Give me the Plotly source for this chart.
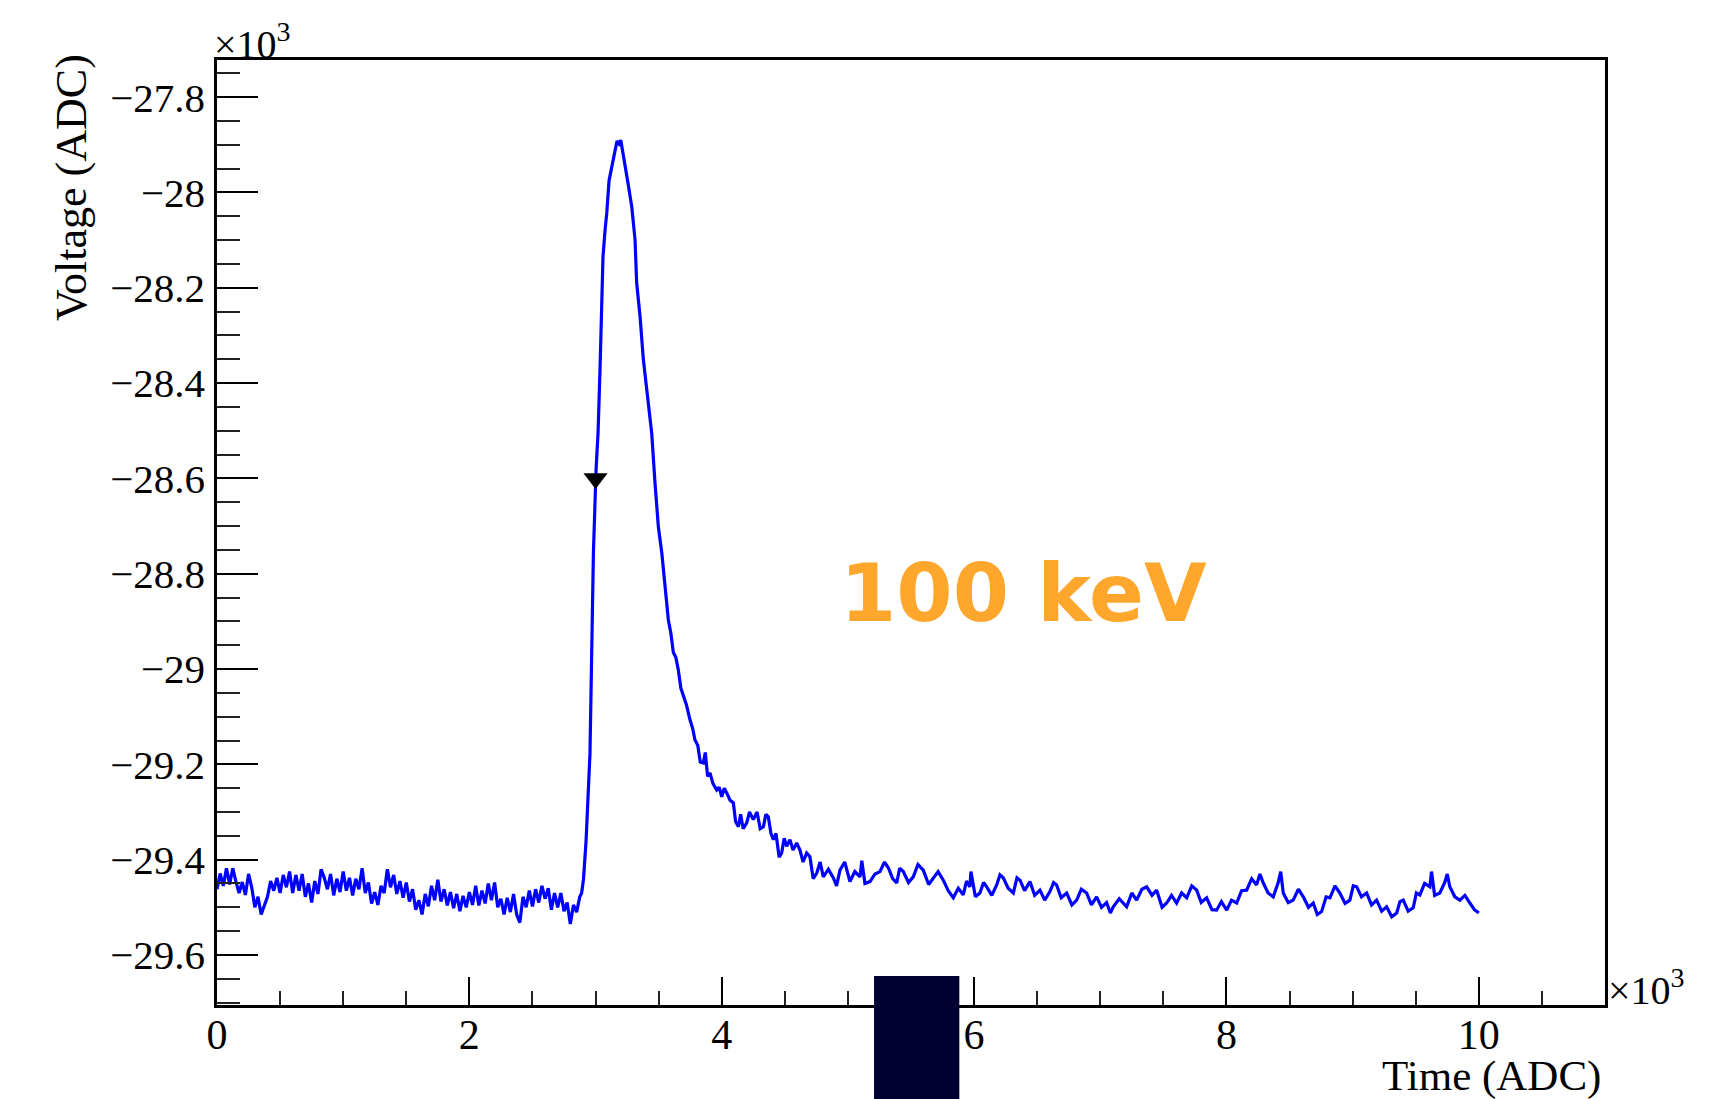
import plotly.graph_objects as go

# ---------------- data (values in units of 10^3) ----------------
baseline_time = [
    0.000, 0.025, 0.050, 0.075, 0.100, 0.125, 0.150, 0.175, 0.200, 0.225,
    0.250, 0.275, 0.300, 0.325, 0.350, 0.375, 0.400, 0.425, 0.450, 0.475,
    0.500, 0.525, 0.550, 0.575, 0.600, 0.625, 0.650, 0.675, 0.700, 0.725,
    0.750, 0.775, 0.800, 0.825, 0.850, 0.875, 0.900, 0.925, 0.950, 0.975,
    1.000, 1.025, 1.050, 1.075, 1.100, 1.125, 1.150, 1.175, 1.200, 1.225,
    1.250, 1.275, 1.300, 1.325, 1.350, 1.375, 1.400, 1.425, 1.450, 1.475,
    1.500, 1.525, 1.550, 1.575, 1.600, 1.625, 1.650, 1.675, 1.700, 1.725,
    1.750, 1.775, 1.800, 1.825, 1.850, 1.875, 1.900, 1.925, 1.950, 1.975,
    2.000, 2.025, 2.050, 2.075, 2.100, 2.125, 2.150, 2.175, 2.200, 2.225,
    2.250, 2.275, 2.300, 2.325, 2.350, 2.375, 2.400, 2.425, 2.450, 2.475,
    2.500, 2.525, 2.550, 2.575, 2.600, 2.625, 2.650, 2.675, 2.700, 2.725,
    2.750, 2.775, 2.800, 2.825, 2.850, 2.875, 2.890,
]
baseline_volt = [
    -29.462, -29.429, -29.455, -29.418, -29.452, -29.418, -29.446, -29.470, -29.447, -29.474,
    -29.430, -29.458, -29.500, -29.478, -29.515, -29.496, -29.478, -29.445, -29.465, -29.438,
    -29.470, -29.432, -29.458, -29.425, -29.470, -29.432, -29.465, -29.430, -29.478, -29.450,
    -29.490, -29.445, -29.472, -29.420, -29.438, -29.462, -29.430, -29.475, -29.440, -29.468,
    -29.425, -29.465, -29.438, -29.475, -29.440, -29.462, -29.418, -29.470, -29.448, -29.492,
    -29.468, -29.495, -29.455, -29.470, -29.420, -29.458, -29.432, -29.472, -29.445, -29.480,
    -29.448, -29.488, -29.462, -29.505, -29.485, -29.515, -29.472, -29.498, -29.455, -29.485,
    -29.442, -29.488, -29.462, -29.496, -29.468, -29.502, -29.472, -29.508, -29.476, -29.500,
    -29.468, -29.495, -29.455, -29.496, -29.465, -29.492, -29.450, -29.485, -29.448, -29.500,
    -29.482, -29.515, -29.480, -29.510, -29.472, -29.515, -29.532, -29.478, -29.500, -29.465,
    -29.498, -29.462, -29.490, -29.455, -29.482, -29.460, -29.505, -29.470, -29.500, -29.470,
    -29.508, -29.490, -29.535, -29.495, -29.510, -29.478, -29.470,
]

pulse_time = [
    2.905, 2.925, 2.956, 2.983, 3.004, 3.020, 3.036, 3.049, 3.059, 3.075,
    3.089, 3.107, 3.128, 3.154, 3.170, 3.186, 3.200, 3.220, 3.240, 3.260,
    3.287, 3.313, 3.326, 3.353, 3.379, 3.418, 3.445, 3.471, 3.498, 3.525,
    3.551, 3.577, 3.597, 3.617, 3.636, 3.656, 3.676, 3.696, 3.720, 3.749,
    3.770, 3.788, 3.810, 3.830, 3.854, 3.870, 3.888, 3.907, 3.930, 3.960,
    3.980, 4.000, 4.020, 4.040, 4.065, 4.092, 4.110, 4.132, 4.150, 4.170,
    4.198, 4.220, 4.250, 4.280, 4.305, 4.330, 4.350, 4.369, 4.390, 4.409,
    4.430, 4.455, 4.475, 4.495, 4.515, 4.541, 4.565, 4.594, 4.620, 4.645,
    4.673, 4.699, 4.725, 4.753, 4.780, 4.805, 4.845, 4.884, 4.910, 4.937,
]
pulse_volt = [
    -29.440, -29.360, -29.177, -28.757, -28.582, -28.504, -28.366, -28.261, -28.135, -28.080,
    -28.043, -27.975, -27.945, -27.910, -27.892, -27.898, -27.890, -27.922, -27.950, -27.985,
    -28.030, -28.099, -28.190, -28.261, -28.351, -28.435, -28.505, -28.609, -28.702, -28.756,
    -28.827, -28.897, -28.925, -28.966, -28.975, -29.002, -29.040, -29.058, -29.075, -29.107,
    -29.125, -29.149, -29.160, -29.195, -29.197, -29.175, -29.225, -29.218, -29.240, -29.254,
    -29.248, -29.268, -29.250, -29.260, -29.275, -29.281, -29.320, -29.331, -29.305, -29.335,
    -29.323, -29.300, -29.316, -29.300, -29.335, -29.331, -29.305, -29.310, -29.345, -29.358,
    -29.345, -29.395, -29.386, -29.355, -29.372, -29.358, -29.380, -29.365, -29.380, -29.405,
    -29.386, -29.394, -29.440, -29.428, -29.405, -29.436, -29.420, -29.438, -29.455, -29.422,
]

tail_time = [
    4.975, 5.016, 5.055, 5.096, 5.110, 5.135, 5.175, 5.215, 5.254, 5.290,
    5.320, 5.355, 5.387, 5.410, 5.439, 5.480, 5.518, 5.555, 5.597, 5.640,
    5.677, 5.715, 5.756, 5.795, 5.835, 5.875, 5.914, 5.940, 5.967, 5.975,
    6.010, 6.046, 6.075, 6.100, 6.140, 6.179, 6.205, 6.231, 6.270, 6.311,
    6.340, 6.364, 6.400, 6.443, 6.480, 6.522, 6.560, 6.601, 6.630, 6.654,
    6.690, 6.734, 6.775, 6.813, 6.850, 6.892, 6.930, 6.971, 7.010, 7.050,
    7.080, 7.103, 7.150, 7.209, 7.250, 7.288, 7.330, 7.368, 7.410, 7.447,
    7.490, 7.526, 7.565, 7.605, 7.645, 7.685, 7.725, 7.764, 7.800, 7.843,
    7.885, 7.922, 7.960, 8.002, 8.040, 8.081, 8.120, 8.160, 8.200, 8.239,
    8.265, 8.292, 8.330, 8.371, 8.410, 8.430, 8.450, 8.490, 8.529, 8.570,
    8.609, 8.650, 8.688, 8.720, 8.754, 8.790, 8.820, 8.860, 8.899, 8.940,
    8.978, 9.005, 9.032, 9.070, 9.111, 9.150, 9.190, 9.230, 9.269, 9.310,
    9.349, 9.375, 9.401, 9.440, 9.480, 9.505, 9.533, 9.570, 9.612, 9.625,
    9.650, 9.691, 9.730, 9.750, 9.770, 9.810, 9.850, 9.890, 9.929, 9.965,
    10.000,
]
tail_volt = [
    -29.405, -29.446, -29.425, -29.436, -29.402, -29.450, -29.446, -29.430, -29.425, -29.405,
    -29.417, -29.440, -29.449, -29.418, -29.425, -29.448, -29.436, -29.410, -29.422, -29.452,
    -29.438, -29.425, -29.443, -29.465, -29.480, -29.460, -29.474, -29.445, -29.457, -29.425,
    -29.478, -29.470, -29.448, -29.457, -29.475, -29.453, -29.432, -29.438, -29.460, -29.470,
    -29.438, -29.443, -29.465, -29.446, -29.475, -29.464, -29.485, -29.467, -29.448, -29.453,
    -29.480, -29.470, -29.495, -29.485, -29.462, -29.470, -29.495, -29.478, -29.500, -29.490,
    -29.512, -29.499, -29.482, -29.499, -29.470, -29.485, -29.462, -29.457, -29.475, -29.464,
    -29.500, -29.491, -29.475, -29.491, -29.470, -29.480, -29.455, -29.464, -29.490, -29.480,
    -29.505, -29.506, -29.488, -29.506, -29.485, -29.491, -29.465, -29.464, -29.440, -29.453,
    -29.430, -29.449, -29.470, -29.478, -29.448, -29.425, -29.470, -29.490, -29.485, -29.462,
    -29.478, -29.500, -29.491, -29.515, -29.509, -29.478, -29.480, -29.455, -29.470, -29.492,
    -29.485, -29.455, -29.457, -29.478, -29.470, -29.495, -29.485, -29.508, -29.499, -29.520,
    -29.512, -29.488, -29.485, -29.508, -29.501, -29.470, -29.474, -29.450, -29.457, -29.425,
    -29.475, -29.470, -29.448, -29.430, -29.457, -29.478, -29.485, -29.475, -29.491, -29.505,
    -29.512,
]

trigger_time = [3.0]
trigger_volt = [-28.6]

y_tick_vals = [-27.8, -28.0, -28.2, -28.4, -28.6, -28.8, -29.0, -29.2, -29.4, -29.6]
y_tick_text = ["\u221227.8", "\u221228", "\u221228.2", "\u221228.4", "\u221228.6",
               "\u221228.8", "\u221229", "\u221229.2", "\u221229.4", "\u221229.6"]
x_tick_vals = [0, 2, 4, 6, 8, 10]
x_tick_text = ["0", "2", "4", "6", "8", "10"]

time_all = baseline_time + pulse_time + tail_time
volt_all = baseline_volt + pulse_volt + tail_volt

# ---------------- figure ----------------
# the page body adds an 8 px margin, so the figure is 8 px smaller than the window
W, H = 1723, 1091
L, R, T, B = 209, 126, 52, 94
serif = "Liberation Serif, Times New Roman, serif"

fig = go.Figure()
fig.add_trace(go.Scatter(
    x=time_all, y=volt_all, mode="lines",
    line=dict(color="#0000ff", width=3.2),
    hoverinfo="skip", showlegend=False,
))
fig.add_trace(go.Scatter(
    x=trigger_time, y=trigger_volt, mode="markers",
    marker=dict(symbol="triangle-down", size=21, color="black"),
    hoverinfo="skip", showlegend=False,
))

fig.update_layout(
    width=W, height=H, autosize=False,
    margin=dict(l=L, r=R, t=T, b=B, pad=0),
    paper_bgcolor="white", plot_bgcolor="white",
    showlegend=False,
    font=dict(family=serif, color="black"),
)

fig.update_xaxes(
    range=[0, 11], tickmode="array", tickvals=x_tick_vals, ticktext=x_tick_text,
    ticks="inside", ticklen=28, tickwidth=2, tickcolor="black",
    minor=dict(tickmode="linear", tick0=0, dtick=0.5, ticks="inside",
               ticklen=14, tickwidth=2, tickcolor="#222222"),
    showline=True, linecolor="black", linewidth=2.5, mirror=True,
    showgrid=False, zeroline=False,
    tickfont=dict(family=serif, size=42, color="black"),
    ticklabelstandoff=-9,
)
fig.update_yaxes(
    range=[-29.705, -27.722], tickmode="array", tickvals=y_tick_vals, ticktext=y_tick_text,
    ticks="inside", ticklen=41, tickwidth=2, tickcolor="black",
    minor=dict(tickmode="linear", tick0=-29.6, dtick=0.05, ticks="inside",
               ticklen=23, tickwidth=2, tickcolor="#222222"),
    showline=True, linecolor="black", linewidth=2.5, mirror=True,
    showgrid=False, zeroline=False,
    tickfont=dict(family=serif, size=41, color="black"),
    ticklabelstandoff=1,
)

annotations = [
    # y title (ROOT style: right aligned at top of axis)
    dict(text="Voltage (ADC)", xref="paper", yref="paper", x=0, y=1,
         xanchor="center", yanchor="middle", xshift=-146, yshift=-128,
         textangle=-90, showarrow=False,
         font=dict(family=serif, size=44, color="black")),
    # x title
    dict(text="Time (ADC)", xref="paper", yref="paper", x=1, y=0,
         xanchor="right", yanchor="middle", xshift=-2, yshift=-71,
         showarrow=False, font=dict(family=serif, size=43, color="black")),
    # exponent labels
    dict(text="\u00d710<sup>3</sup>", xref="paper", yref="paper", x=0, y=1,
         xanchor="left", yanchor="bottom", xshift=-5, yshift=-9,
         showarrow=False, font=dict(family=serif, size=40, color="black")),
    dict(text="\u00d710<sup>3</sup>", xref="paper", yref="paper", x=1, y=0,
         xanchor="left", yanchor="bottom", xshift=1, yshift=-10,
         showarrow=False, font=dict(family=serif, size=40, color="black")),
    # energy label
    dict(text="<b>100 keV</b>", xref="x", yref="y", x=6.39, y=-28.84,
         xanchor="center", yanchor="middle", showarrow=False,
         font=dict(family="DejaVu Sans", size=81, color="#ffa62d")),
]
fig.update_layout(annotations=annotations)

# dark block covering part of the x axis (present in the source image)
fig.add_shape(type="rect", xref="x", yref="paper",
              x0=5.207, x1=5.883, y0=-0.11, y1=0.0307,
              fillcolor="#000033", line=dict(width=0), layer="above")

fig.write_html("out.html")
